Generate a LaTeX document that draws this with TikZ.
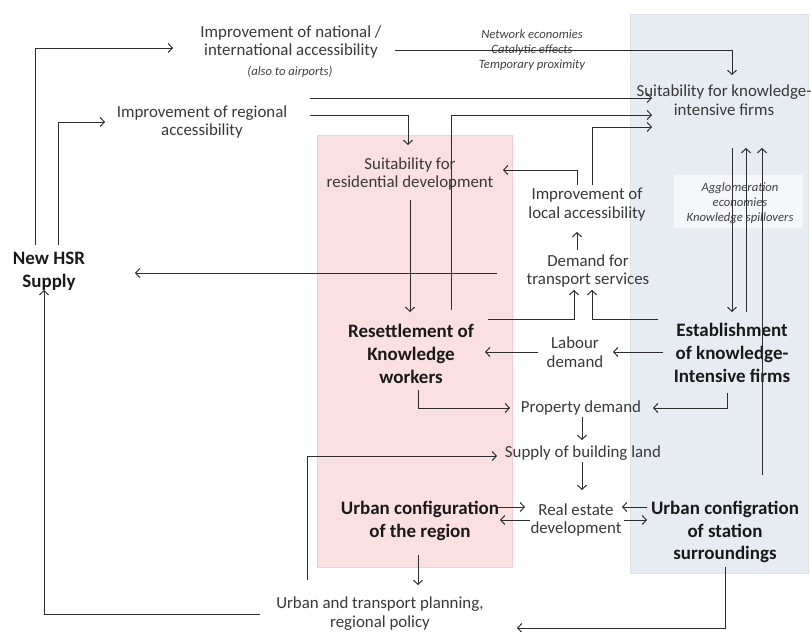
\documentclass[tikz,border=0pt]{standalone}
\usepackage{fontspec}
\setmainfont{Carlito}
\usetikzlibrary{arrows.meta,calc}

\definecolor{regionpink}{RGB}{251,224,226}
\definecolor{regionedge}{RGB}{245,205,208}
\definecolor{stationblue}{RGB}{231,236,243}
\definecolor{stationedge}{RGB}{220,227,236}
\definecolor{notebg}{RGB}{245,247,251}
\definecolor{linegray}{RGB}{45,45,45}

\begin{document}
\begin{tikzpicture}[x=0.025cm, y=-0.025cm,
    txt/.style={align=center, inner sep=2pt, text=black!78, font=\fontsize{12}{13.5}\selectfont},
    key/.style={align=center, inner sep=2pt, text=black!90, font=\fontsize{13.5}{16.3}\selectfont\bfseries},
    note/.style={align=center, inner sep=1pt, text=black!75, font=\fontsize{9}{10.6}\selectfont\itshape},
    arr/.style={draw=linegray, line width=0.7pt, -{Straight Barb[length=3pt,width=6.5pt]}}]
    \useasboundingbox (0,0) rectangle (811,632);

    % Draw the two background areas
    \filldraw[fill=regionpink, draw=regionedge] (317,135) rectangle (512,567);
    \filldraw[fill=stationblue, draw=stationedge] (630,14) rectangle (808,573);
    \fill[notebg] (674,175) rectangle (803,228);

    % Draw the factors
    \node[key] (hsr) at (49,271) {New HSR\\Supply};
    \node[txt] (nat) at (291,42) {Improvement of national /\\international accessibility};
    \node[note] (natnote) at (290,72) {(also to airports)};
    \node[note] (net) at (532,50) {Network economies\\Catalytic effects\\Temporary proximity};
    \node[txt] (reg) at (202,122) {Improvement of regional\\accessibility};
    \node[txt] (sk) at (724,100) {Suitability for knowledge-\\intensive firms};
    \node[txt] (sr) at (410,174) {Suitability for\\residential development};
    \node[txt] (la) at (587,205) {Improvement of\\local accessibility};
    \node[txt] (dt) at (588,271) {Demand for\\transport services};
    \node[note] (agg) at (740,203) {Agglomeration\\economies\\Knowledge spillovers};
    \node[key] (rk) at (411,354) {Resettlement of\\Knowledge\\workers};
    \node[txt] (ld) at (575,352) {Labour\\demand};
    \node[key] (ek) at (732,353) {Establishment\\of knowledge-\\Intensive firms};
    \node[txt] (pd) at (581,408) {Property demand};
    \node[txt] (sb) at (583,453) {Supply of building land};
    \node[txt] (re) at (576,520) {Real estate\\development};
    \node[key] (ucr) at (420,521) {Urban configuration\\of the region};
    \node[key] (ucs) at (725,532) {Urban configration\\of station\\surroundings};
    \node[txt] (utp) at (380,614) {Urban and transport planning,\\regional policy};

    % Draw the accessibility arrows
    \draw[arr] ($(hsr)+(-14,-26)$) |- ($(nat)+(-118,6)$);
    \draw[arr] ($(hsr)+(9,-26)$) |- ($(reg)+(-97,0)$);
    \draw[arr] ($(nat)+(104,8)$) -| ($(sk)+(8,-25)$);
    \draw[arr] ($(reg)+(108,-24)$) -- ($(sk)+(-72,-2)$);
    \draw[arr] ($(reg)+(108,-7)$) -| ($(sr)+(-2,-29)$);
    \draw[arr] ($(rk)+(40,-44)$) |- ($(sk)+(-72,15)$);
    \draw[arr] ($(la)+(5,-20)$) |- ($(sk)+(-72,27)$);
    \draw[arr] ($(la)+(-10,-20)$) |- ($(sr)+(93,-4)$);
    \draw[arr] ($(sr)+(0,26)$) -- ($(rk)+(-1,-42)$);
    \draw[arr] ($(dt)+(-91,2)$) -- ($(hsr)+(86,2)$);
    \draw[arr] ($(dt)+(-11,-21)$) -- ($(la)+(-10,27)$);

    % Draw the demand arrows
    \draw[arr] ($(rk)+(77,-35)$) -| ($(dt)+(-14,19)$);
    \draw[arr] ($(ek)+(-74,-34)$) -| ($(dt)+(4,19)$);
    \draw[arr] ($(ek)+(-69,-1)$) -- ($(ld)+(38,0)$);
    \draw[arr] ($(ld)+(-37,0)$) -- ($(rk)+(74,-2)$);
    \draw[arr] ($(rk)+(7,36)$) |- ($(pd)+(-71,0)$);
    \draw[arr] ($(ek)+(-5,40)$) |- ($(pd)+(72,0)$);
    \draw[arr] ($(pd)+(1,9)$) -- ($(sb)+(-1,-13)$);
    \draw[arr] ($(sb)+(-1,9)$) -- ($(re)+(6,-30)$);

    % Draw the real estate arrows
    \draw[arr] ($(ucr)+(77,-14)$) -- ($(re)+(-51,-13)$);
    \draw[arr] ($(re)+(-46,0)$) -- ($(ucr)+(80,-1)$);
    \draw[arr] ($(ucs)+(-78,-25)$) -- ($(re)+(46,-13)$);
    \draw[arr] ($(re)+(48,0)$) -- ($(ucs)+(-78,-12)$);

    % Draw the firm arrows
    \draw[arr] ($(sk)+(8,48)$) -- ($(ek)+(0,-41)$);
    \draw[arr] ($(ek)+(14,-41)$) -- ($(sk)+(22,48)$);
    \draw[arr] ($(ucs)+(37,-57)$) -- ($(sk)+(38,48)$);

    % Draw the planning arrows
    \draw[arr] ($(ucr)+(-2,34)$) -- ($(utp)+(38,-29)$);
    \draw[arr] ($(utp)+(-120,0)$) -| ($(hsr)+(-5,19)$);
    \draw[arr] ($(utp)+(-73,-34)$) |- ($(sb)+(-86,3)$);
    \draw[arr] ($(ucs)+(0,35)$) |- ($(utp)+(137,14)$);
\end{tikzpicture}
\end{document}
